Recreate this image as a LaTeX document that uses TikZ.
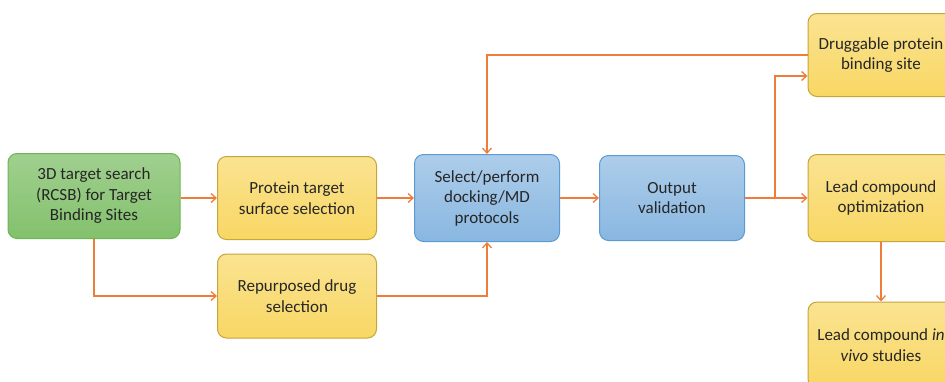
\documentclass[tikz,border=0pt]{standalone}
\usepackage{fontspec}
\setmainfont{Carlito}
\usetikzlibrary{arrows.meta, positioning}
\definecolor{flow}{HTML}{EE7D3A}
\definecolor{leafgreen}{HTML}{6DB653}
\definecolor{sunyellow}{HTML}{F7D048}
\definecolor{skyblue}{HTML}{5B9BD5}
\tikzset{
  stepbox/.style={rectangle, rounded corners=9pt, draw=#1, line width=1pt,
                  align=center, inner sep=2pt, text=black!85,
                  font=\fontsize{17}{20.5}\selectfont},
  greenbox/.style={stepbox=leafgreen, top color=leafgreen!65!white,
                   bottom color=leafgreen!85!white},
  yellowbox/.style={stepbox=sunyellow!80!black, top color=sunyellow!60!white,
                    bottom color=sunyellow!85!white},
  bluebox/.style={stepbox=skyblue, top color=skyblue!50!white,
                  bottom color=skyblue!72!white},
  arr/.style={-{Straight Barb[length=5pt, width=9pt]}, line width=1.3pt, #1},
  arr/.default=flow,
}

\begin{document}
\begin{tikzpicture}[x=1pt, y=-1pt]
  \useasboundingbox (0,0) rectangle (945,381);
  \clip (0,0) rectangle (945,381);
  \fill[white] (0,0) rectangle (945,381);

  % input side
  \node[greenbox, minimum width=172pt, minimum height=85pt]
    (search) at (94,196) {3D target search\\(RCSB) for Target\\Binding Sites};
  \node[yellowbox, minimum width=159pt, minimum height=83pt]
    (surface) at (297,198) {Protein target\\surface selection};
  \node[yellowbox, minimum width=159pt, minimum height=84pt]
    (repurpose) at (297,296) {Repurposed drug\\selection};

  % middle
  \node[bluebox, minimum width=145pt, minimum height=87pt]
    (docking) at (487,198) {Select/perform\\docking/MD\\protocols};
  \node[bluebox, minimum width=145pt, minimum height=85pt]
    (validation) at (672,198) {Output\\validation};

  % outcomes -- right column, cut by the page edge
  \node[yellowbox, minimum width=146pt, minimum height=83pt]
    (site) at (881,55) {Druggable protein\\binding site};
  \node[yellowbox, minimum width=146pt, minimum height=87pt]
    (optim) at (881,198) {Lead compound\\optimization};
  \node[yellowbox, minimum width=146pt, minimum height=86pt]
    (invivo) at (881,345) {Lead compound \textit{in}\\\textit{vivo} studies};

  \coordinate (split) at (775,198);

  % Arrows
  \draw[arr] (search.east |- surface.west) -- (surface.west);
  \draw[arr] (search.south) |- (repurpose.west);
  \draw[arr] (surface.east) -- (docking.west);
  \draw[arr] (repurpose.east) -| (docking.south);
  \draw[arr] (docking.east) -- (validation.west);
  \draw[arr] (validation.east) -- (optim.west);
  \draw[arr] (split) |- ([yshift=-21pt]site.west);
  \draw[arr] (site.west) -| (docking.north);
  \draw[arr] (optim.south) -- (invivo.north);
\end{tikzpicture}
\end{document}
